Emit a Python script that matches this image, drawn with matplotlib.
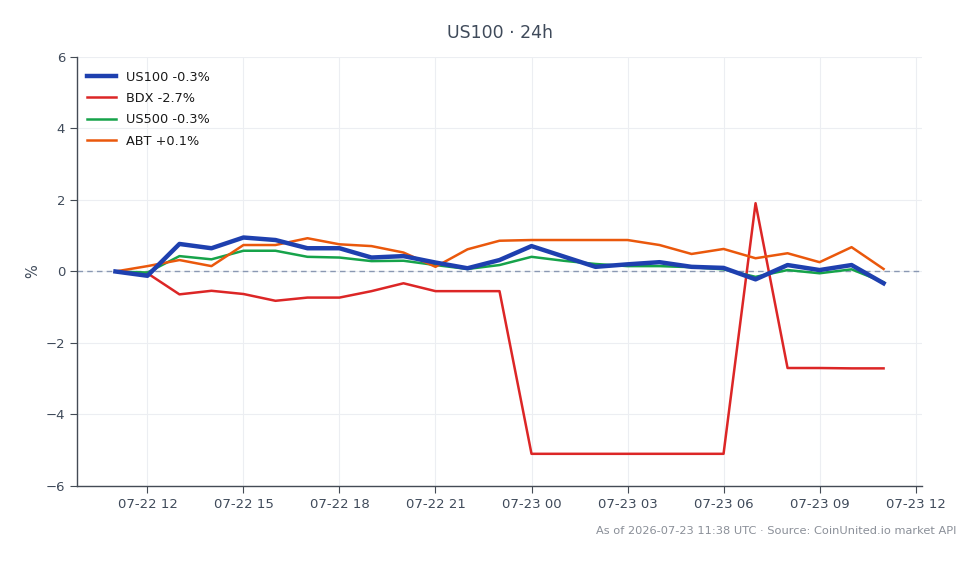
import matplotlib
matplotlib.use("Agg")
import matplotlib.pyplot as plt
import matplotlib.dates as mdates
import pandas as pd

times = pd.date_range("2026-07-22 11:00", "2026-07-23 11:00", freq="h")
us100 = [0, -0.12, 0.77, 0.65, 0.95, 0.88, 0.65, 0.65, 0.39, 0.43, 0.25, 0.09, 0.32,
         0.71, 0.42, 0.13, 0.2, 0.26, 0.13, 0.1, -0.22, 0.18, 0.04, 0.18, -0.33]
bdx = [0, -0.05, -0.64, -0.54, -0.63, -0.82, -0.73, -0.73, -0.55, -0.33, -0.55, -0.55, -0.55,
       -5.1, -5.1, -5.1, -5.1, -5.1, -5.1, -5.1, 1.91, -2.7, -2.7, -2.71, -2.71]
us500 = [0, -0.03, 0.43, 0.34, 0.58, 0.58, 0.41, 0.39, 0.29, 0.3, 0.18, 0.07, 0.18,
         0.41, 0.3, 0.21, 0.15, 0.15, 0.12, 0.06, -0.15, 0.04, -0.05, 0.06, -0.3]
abt = [0, 0.15, 0.32, 0.15, 0.74, 0.74, 0.93, 0.76, 0.71, 0.53, 0.13, 0.62, 0.86,
       0.88, 0.88, 0.88, 0.88, 0.74, 0.49, 0.63, 0.37, 0.51, 0.26, 0.68, 0.07]
labels = ["US100 -0.3%", "BDX -2.7%", "US500 -0.3%", "ABT +0.1%"]
title = "US100 · 24h"
footer = "As of 2026-07-23 11:38 UTC · Source: CoinUnited.io market API"

txt = "#3f4a5a"
fig = plt.figure(figsize=(9.8, 5.64), dpi=100)
ax = fig.add_axes([0.0786, 0.1383, 0.8622, 0.7607])

ax.plot(times, us100, color="#1e40af", lw=3.2, label=labels[0], zorder=5)
ax.plot(times, bdx, color="#dc2626", lw=1.8, label=labels[1], zorder=4)
ax.plot(times, us500, color="#16a34a", lw=1.8, label=labels[2], zorder=4)
ax.plot(times, abt, color="#ea580c", lw=1.8, label=labels[3], zorder=4)
ax.axhline(0, color="#8a98b3", lw=1, ls=(0, (4, 3)), zorder=2)

ax.set_ylim(-6, 6)
ax.set_yticks([-6, -4, -2, 0, 2, 4, 6])
ax.xaxis.set_major_locator(mdates.HourLocator(byhour=range(0, 24, 3)))
ax.xaxis.set_major_formatter(mdates.DateFormatter("%m-%d %H"))
ax.margins(x=0.05)

ax.grid(True, color="#eceef2", lw=0.8)
ax.set_axisbelow(True)
for s in ["top", "right"]:
    ax.spines[s].set_visible(False)
for s in ["left", "bottom"]:
    ax.spines[s].set_color("#444b55")
    ax.spines[s].set_linewidth(1.0)
ax.tick_params(colors="#444b55", labelcolor=txt, labelsize=9.5, length=5)
ax.set_ylabel("%", color=txt, fontsize=10.5, labelpad=4)

ax.set_title(title, color=txt, fontsize=12.5, pad=14)
leg = ax.legend(loc="upper left", bbox_to_anchor=(-0.004, 1.0), frameon=False,
                fontsize=9.3, handlelength=2.2, handletextpad=0.8,
                borderaxespad=0.5, labelspacing=0.65, borderpad=0.55)
for t in leg.get_texts():
    t.set_color("#1a1a1a")

fig.text(0.976, 0.05, footer, ha="right", va="bottom", color="#8a8f98", fontsize=8.2)
fig.savefig("out.png", dpi=100, facecolor="white")
